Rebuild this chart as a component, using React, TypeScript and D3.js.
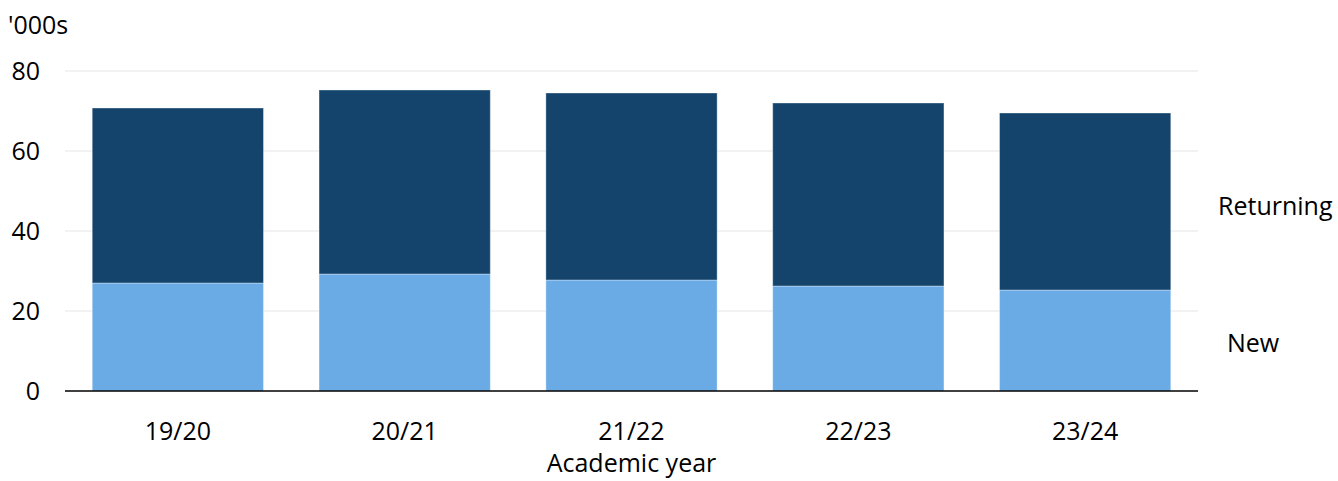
import React, { useEffect, useRef } from "react";
import * as d3 from "d3";

const years = ["19/20", "20/21", "21/22", "22/23", "23/24"];
const newStudents = [27, 29.25, 27.75, 26.25, 25.25];
const returningStudents = [43.75, 46, 46.75, 45.75, 44.25];
const yTicks = [0, 20, 40, 60, 80];
const seriesNames = ["New", "Returning"];
const seriesColors = ["#6aabe6", "#14446c"];

const W = 1338;
const H = 481;
const FONT = "'Open Sans', sans-serif";
const FS = 25;

export default function App() {
  const ref = useRef<SVGSVGElement | null>(null);

  useEffect(() => {
    const svg = d3.select(ref.current);
    svg.selectAll("*").remove();

    const x0 = 65;
    const x1 = 1198;
    const y0 = 391;
    const yTop = 71;

    const x = d3.scaleBand<string>().domain(years).range([x0, x1]).paddingInner(0.245).paddingOuter(0.12);
    const y = d3.scaleLinear().domain([0, 80]).range([y0, yTop]);

    // gridlines
    svg
      .append("g")
      .selectAll("line")
      .data(yTicks.filter((t) => t > 0))
      .join("line")
      .attr("x1", x0)
      .attr("x2", x1)
      .attr("y1", (d) => y(d))
      .attr("y2", (d) => y(d))
      .attr("stroke", "#eeeeee")
      .attr("stroke-width", 1.5);

    // y tick labels
    svg
      .append("g")
      .selectAll("text")
      .data(yTicks)
      .join("text")
      .attr("x", 40)
      .attr("y", (d) => y(d))
      .attr("dy", "0.35em")
      .attr("text-anchor", "end")
      .attr("font-family", FONT)
      .attr("font-size", FS)
      .attr("fill", "#000")
      .text((d) => d);

    svg
      .append("text")
      .attr("x", 8)
      .attr("y", 34)
      .attr("font-family", FONT)
      .attr("font-size", FS)
      .attr("fill", "#000")
      .text("'000s");

    const rows = years.map((yr, i) => ({ year: yr, New: newStudents[i], Returning: returningStudents[i] }));
    const stacked = d3.stack<any>().keys(seriesNames)(rows);

    stacked.forEach((layer, li) => {
      svg
        .append("g")
        .selectAll("rect")
        .data(layer)
        .join("rect")
        .attr("x", (d: any) => x(d.data.year)!)
        .attr("width", x.bandwidth())
        .attr("y", (d: any) => y(d[1]))
        .attr("height", (d: any) => y(d[0]) - y(d[1]))
        .attr("fill", seriesColors[li])
        .attr("stroke", "#ffffff")
        .attr("stroke-opacity", 0.35)
        .attr("stroke-width", 1);
    });

    // x axis line
    svg
      .append("line")
      .attr("x1", x0)
      .attr("x2", x1)
      .attr("y1", y0)
      .attr("y2", y0)
      .attr("stroke", "#000")
      .attr("stroke-width", 1.5);

    // category labels
    svg
      .append("g")
      .selectAll("text")
      .data(years)
      .join("text")
      .attr("x", (d) => x(d)! + x.bandwidth() / 2)
      .attr("y", 440)
      .attr("text-anchor", "middle")
      .attr("font-family", FONT)
      .attr("font-size", FS)
      .attr("fill", "#000")
      .text((d) => d);

    svg
      .append("text")
      .attr("x", (x0 + x1) / 2)
      .attr("y", 472)
      .attr("text-anchor", "middle")
      .attr("font-family", FONT)
      .attr("font-size", FS)
      .attr("fill", "#000")
      .text("Academic year");

    // series labels at right
    svg
      .append("text")
      .attr("x", 1218)
      .attr("y", 206)
      .attr("dy", "0.35em")
      .attr("font-family", FONT)
      .attr("font-size", FS)
      .attr("fill", "#000")
      .text(seriesNames[1]);

    svg
      .append("text")
      .attr("x", 1227)
      .attr("y", 343)
      .attr("dy", "0.35em")
      .attr("font-family", FONT)
      .attr("font-size", FS)
      .attr("fill", "#000")
      .text(seriesNames[0]);
  }, []);

  return (
    <svg
      ref={ref}
      width={W}
      height={H}
      style={{ position: "absolute", left: 0, top: 0, background: "#fff" }}
    />
  );
}
